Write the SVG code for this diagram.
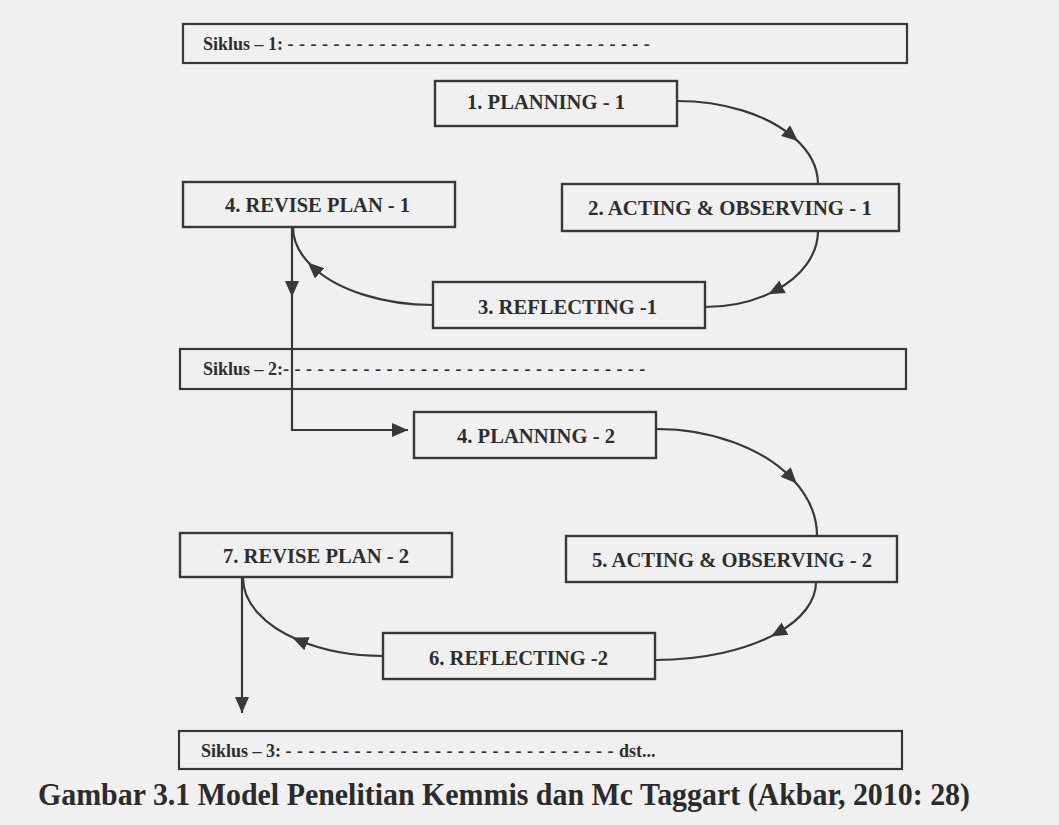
<svg xmlns="http://www.w3.org/2000/svg" width="1059" height="825" viewBox="0 0 1059 825">
<style>
.bg{fill:#f0f0f0}
.box{fill:none;stroke:#383838;stroke-width:2.4}
.sbox{fill:none;stroke:#383838;stroke-width:2.2}
.lbl{font-family:"Liberation Serif","Times New Roman",serif;font-weight:bold;font-size:22px;fill:#2e2e2e}
.sk{font-family:"Liberation Serif","Times New Roman",serif;font-weight:bold;font-size:18px;fill:#2e2e2e}
.dash{letter-spacing:5.5px}
.cap{font-family:"Liberation Serif","Times New Roman",serif;font-weight:bold;font-size:32px;fill:#2b2b2b}
.con{fill:none;stroke:#383838;stroke-width:2.2}
</style>
<defs>
<marker id="ah" markerUnits="userSpaceOnUse" markerWidth="17" markerHeight="15" refX="16" refY="7" orient="auto">
<path d="M0,0 L16,7 L0,14 z" fill="#383838"/>
</marker>
<marker id="am" markerUnits="userSpaceOnUse" markerWidth="17" markerHeight="15" refX="9" refY="7" orient="auto">
<path d="M0,0 L16,7 L0,14 z" fill="#383838"/>
</marker>
</defs>
<rect class="bg" x="0" y="0" width="1059" height="825"/>

<g id="siklus1">
<rect class="sbox" x="183" y="24" width="724" height="39"/>
<text class="sk" x="203" y="50">Siklus – 1: <tspan class="dash">--------------------------------</tspan></text>
</g>
<g id="planning1">
<rect class="box" x="435" y="81" width="242" height="45"/>
<text class="lbl" x="467" y="109" textLength="158" lengthAdjust="spacingAndGlyphs">1. PLANNING - 1</text>
</g>
<g id="revise1">
<rect class="box" x="183" y="182" width="272" height="45"/>
<text class="lbl" x="225" y="212" textLength="185" lengthAdjust="spacingAndGlyphs">4. REVISE PLAN - 1</text>
</g>
<g id="acting1">
<rect class="box" x="562" y="184" width="337" height="47"/>
<text class="lbl" x="588" y="215" textLength="284" lengthAdjust="spacingAndGlyphs">2. ACTING &amp; OBSERVING - 1</text>
</g>
<g id="reflecting1">
<rect class="box" x="433" y="282" width="272" height="46"/>
<text class="lbl" x="478" y="314" textLength="179" lengthAdjust="spacingAndGlyphs">3. REFLECTING -1</text>
</g>
<g id="siklus2">
<rect class="sbox" x="180" y="349" width="726" height="40"/>
<text class="sk" x="203" y="375">Siklus – 2:<tspan class="dash">--------------------------------</tspan></text>
</g>
<g id="planning2">
<rect class="box" x="414" y="412" width="242" height="46"/>
<text class="lbl" x="457" y="443" textLength="158" lengthAdjust="spacingAndGlyphs">4. PLANNING - 2</text>
</g>
<g id="acting2">
<rect class="box" x="566" y="536" width="331" height="46"/>
<text class="lbl" x="592" y="567" textLength="280" lengthAdjust="spacingAndGlyphs">5. ACTING &amp; OBSERVING - 2</text>
</g>
<g id="revise2">
<rect class="box" x="180" y="533" width="272" height="44"/>
<text class="lbl" x="223" y="563" textLength="186" lengthAdjust="spacingAndGlyphs">7. REVISE PLAN - 2</text>
</g>
<g id="reflecting2">
<rect class="box" x="383" y="633" width="272" height="46"/>
<text class="lbl" x="429" y="665" textLength="179" lengthAdjust="spacingAndGlyphs">6. REFLECTING -2</text>
</g>
<g id="siklus3">
<rect class="sbox" x="179" y="731" width="723" height="38"/>
<text class="sk" x="201" y="757">Siklus – 3: <tspan class="dash">-----------------------------</tspan>dst...</text>
</g>

<g id="connectors">
<path class="con" marker-mid="url(#am)" d="M677,101 A141,83 0 0 1 792.5,136.4 A141,83 0 0 1 818,184"/>
<path class="con" marker-mid="url(#am)" d="M818,231 A113,76 0 0 1 774.6,290.9 A113,76 0 0 1 705,307"/>
<path class="con" marker-mid="url(#am)" d="M433,305 A140,78 0 0 1 313,267.2 A140,78 0 0 1 293,227"/>
<path class="con" marker-end="url(#ah)" d="M292,227 V297"/>
<path class="con" marker-end="url(#ah)" d="M292,297 V430 H408"/>
<path class="con" marker-mid="url(#am)" d="M656,429 A161,107 0 0 1 791.9,478.5 A161,107 0 0 1 817,536"/>
<path class="con" marker-mid="url(#am)" d="M816,582 A161,78 0 0 1 777.2,633.1 A161,78 0 0 1 655,660"/>
<path class="con" marker-mid="url(#am)" d="M383,656 A140,78 0 0 1 298.7,640.3 A140,78 0 0 1 243,578"/>
<path class="con" marker-end="url(#ah)" d="M242,577 V713"/>
</g>

<text id="caption" class="cap" x="38" y="805" textLength="932" lengthAdjust="spacingAndGlyphs">Gambar 3.1 Model Penelitian Kemmis dan Mc Taggart (Akbar, 2010: 28)</text>
</svg>
